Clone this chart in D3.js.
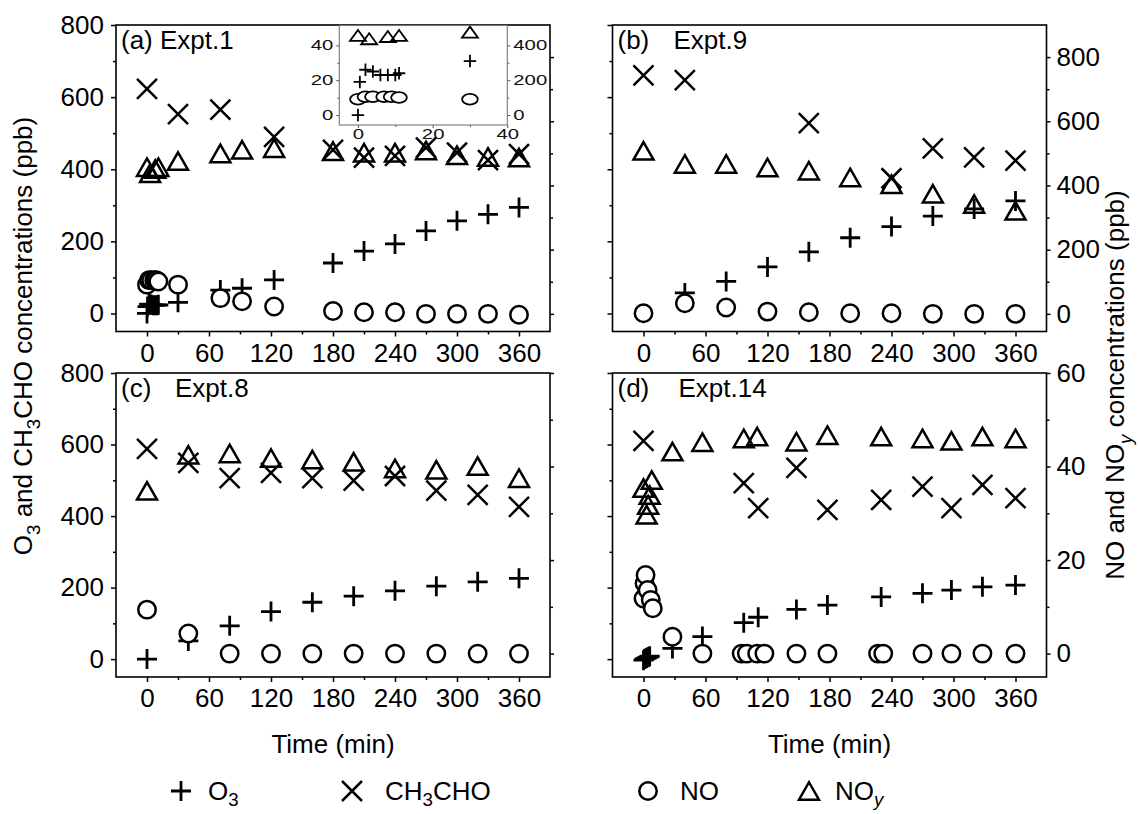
<!DOCTYPE html>
<html>
<head>
<meta charset="utf-8">
<script src="https://cdn.jsdelivr.net/npm/d3@7"></script>
<style>
body { margin: 0; background: #fff; }
svg { font-family: Arial, "Liberation Sans", Helvetica, sans-serif; }
</style>
</head>
<body>
<svg id="chart" width="1138" height="814"></svg>
<script>
// ---- data (time in min, O3 / CH3CHO on left axis, NO / NOy on right axis) ----
// (a) Expt.1
var aO3Time = [0, 0.5, 2, 4, 6, 8, 10, 11, 30, 71, 92, 123, 180, 210, 240, 270, 300, 330, 360];
var aO3 = [0, 19, 26, 25, 23, 23, 23, 24, 31, 65, 70, 93, 140, 173, 193, 229, 257, 275, 294];
var aAldTime = [0, 30, 71, 123, 180, 210, 240, 270, 300, 330, 360];
var aAld = [623, 553, 565, 490, 454, 432, 437, 460, 446, 425, 442];
var aNOTime = [0, 2, 4, 7, 9, 11, 30, 71, 92, 123, 180, 210, 240, 270, 300, 330, 360];
var aNO = [91, 105, 105, 105, 105, 101, 91, 49, 39, 23, 9, 5, 5, 0, 0, 0, -3];
var aNOyTime = [0, 3, 8, 11, 30, 71, 92, 123, 180, 210, 240, 270, 300, 330, 360];
var aNOy = [457, 438, 451, 457, 476, 500, 511, 516, 507, 502, 502, 509, 494, 489, 487];

// (b) Expt.9
var bTime = [0, 40, 80, 120, 160, 200, 240, 280, 320, 360];
var bO3Time = [40, 80, 120, 160, 200, 240, 280, 320, 360];
var bO3 = [57, 89, 129, 171, 210, 241, 270, 290, 312];
var bAldTime = [0, 40, 160, 240, 280, 320, 360];
var bAld = [660, 647, 528, 375, 458, 433, 424];
var bNO = [2, 33, 20, 7, 5, 2, 2, 0, 0, 0];
var bNOy = [508, 467, 467, 456, 446, 425, 404, 374, 342, 321];

// (c) Expt.8
var cTime = [0, 40, 80, 120, 160, 200, 240, 280, 320, 360];
var cO3 = [0, 51, 93, 133, 159, 176, 191, 204, 216, 226];
var cAld = [588, 549, 506, 521, 506, 499, 512, 471, 459, 426];
var cNO = [9.4, 4.3, 0, 0, 0, 0, 0, 0, 0, 0];
var cNOy = [34.8, 42.5, 42.8, 41.8, 41.5, 41.0, 39.6, 39.3, 40.1, 37.5];

// (d) Expt.14
var dO3Time = [0, 1, 2, 3, 4, 5, 6, 28, 57, 97, 111, 148, 178, 230, 270, 298, 328, 360];
var dO3 = [-3, 0, 2, 3, 5, 6, 8, 30, 63, 102, 117, 139, 151, 174, 184, 193, 202, 207];
var dAldTime = [0, 97, 111, 148, 178, 230, 270, 298, 328, 360];
var dAld = [610, 492, 422, 535, 417, 445, 482, 422, 487, 450];
var dNOTime = [0, 1, 2, 4, 7, 9, 28, 57, 95, 100, 110, 117, 148, 178, 227, 232, 270, 298, 328, 360];
var dNO = [11.8, 15, 16.8, 13.6, 11.5, 9.7, 3.6, 0, 0, 0, 0, 0, 0, 0, 0, 0, 0, 0, 0, 0];
var dNOyTime = [0, 3, 4.5, 6, 8, 28, 57, 97, 110, 148, 178, 230, 270, 298, 328, 360];
var dNOy = [35.4, 29.7, 31.8, 33.9, 37.1, 43.2, 45.2, 46.0, 46.4, 45.3, 46.7, 46.4, 46.0, 45.5, 46.4, 46.0];

// axis ticks
var xMajor = [0, 60, 120, 180, 240, 300, 360];
var xMinor = [30, 90, 150, 210, 270, 330];
var leftMajor = [0, 200, 400, 600, 800];
var leftMinor = [100, 300, 500, 700];
var rightTopMajor = [0, 200, 400, 600, 800];
var rightTopMinor = [100, 300, 500, 700];
var rightBotMajor = [0, 20, 40, 60];
var rightBotMinor = [10, 30, 50];

function zip(t, v) {
    return t.map(function (d, i) { return { t: d, v: v[i] }; });
}

var panels = [
    { col: 0, row: 0, label: '(a)', name: 'Expt.1', nameX: 0,
      o3: zip(aO3Time, aO3), ald: zip(aAldTime, aAld), no: zip(aNOTime, aNO), noy: zip(aNOyTime, aNOy) },
    { col: 1, row: 0, label: '(b)', name: 'Expt.9', nameX: 56,
      o3: zip(bO3Time, bO3), ald: zip(bAldTime, bAld), no: zip(bTime, bNO), noy: zip(bTime, bNOy) },
    { col: 0, row: 1, label: '(c)', name: 'Expt.8', nameX: 54,
      o3: zip(cTime, cO3), ald: zip(cTime, cAld), no: zip(cTime, cNO), noy: zip(cTime, cNOy) },
    { col: 1, row: 1, label: '(d)', name: 'Expt.14', nameX: 61,
      o3: zip(dO3Time, dO3), ald: zip(dAldTime, dAld), no: zip(dNOTime, dNO), noy: zip(dNOyTime, dNOy) }
];

var colX = [116, 612.5];
var panelW = 434;
var rowY = [25, 373];
var panelH = [306.5, 304];
var rightDomains = [[-55, 900], [-5, 60]];

var svg = d3.select('#chart');
var FS = 26;

// marker paths
function plusPath(s) { return 'M' + (-s) + ',0H' + s + 'M0,' + (-s) + 'V' + s; }
function crossPath(s) { return 'M' + (-s) + ',' + (-s) + 'L' + s + ',' + s + 'M' + (-s) + ',' + s + 'L' + s + ',' + (-s); }
function triPath(w, h) { return 'M0,' + (-h / 2) + 'L' + (w / 2) + ',' + (h / 2) + 'L' + (-w / 2) + ',' + (h / 2) + 'Z'; }

function richText(sel, parts, size, shift) {
    shift = shift || 0.3;
    var shifted = 0;
    parts.forEach(function (p) {
        var ts = sel.append('tspan').text(p.t);
        if (p.sub) {
            ts.attr('font-size', size * 0.72).attr('dy', size * shift - shifted);
            shifted = size * shift;
        } else {
            ts.attr('dy', -shifted);
            shifted = 0;
        }
        if (p.it) ts.attr('font-style', 'italic');
    });
}

function styleAxis(g, size) {
    g.select('.domain').remove();
    g.selectAll('.tick line').attr('stroke', '#000').attr('stroke-width', 1.5);
    g.selectAll('.tick text').attr('fill', '#000').attr('font-size', size)
        .attr('font-family', 'Arial, "Liberation Sans", sans-serif');
}

function drawMarkers(g, data, x, y, kind, sc) {
    sc = sc || 1;
    var sel = g.append('g').selectAll('path').data(data).enter();
    if (kind == 'circle') {
        sel.append('ellipse')
            .attr('cx', function (d) { return x(d.t); })
            .attr('cy', function (d) { return y(d.v); })
            .attr('rx', 8.7 * sc * (sc < 1 ? 1.45 : 1))
            .attr('ry', 8.7 * sc)
            .attr('fill', '#fff').attr('stroke', '#000').attr('stroke-width', sc < 1 ? 1.8 : 2.5);
        return;
    }
    sel.append('path')
        .attr('transform', function (d) { return 'translate(' + x(d.t) + ',' + y(d.v) + ')'; })
        .attr('d', function () {
            if (kind == 'plus') return plusPath(10 * sc);
            if (kind == 'cross') return crossPath(10 * sc);
            return sc < 1 ? triPath(16, 11) : triPath(20, 17.5);
        })
        .attr('fill', 'none')
        .attr('stroke', '#000')
        .attr('stroke-width', sc < 1 ? 1.8 : (kind == 'plus' ? 2.8 : 2.5))
        .attr('stroke-linejoin', 'miter');
}

panels.forEach(function (p) {
    var x0 = colX[p.col], y0 = rowY[p.row], h = panelH[p.row];
    var x = d3.scaleLinear().domain([-30, 390]).range([x0, x0 + panelW]);
    var yL = d3.scaleLinear().domain([-50, 800]).range([y0 + h, y0]);
    var yR = d3.scaleLinear().domain(rightDomains[p.row]).range([y0 + h, y0]);
    var g = svg.append('g');

    // bottom axis
    var gx = g.append('g').attr('transform', 'translate(0,' + (y0 + h) + ')')
        .call(d3.axisBottom(x).tickValues(xMajor).tickSize(5).tickPadding(7).tickSizeOuter(0));
    styleAxis(gx, FS);
    var gxm = g.append('g').attr('transform', 'translate(0,' + (y0 + h) + ')')
        .call(d3.axisBottom(x).tickValues(xMinor).tickSize(3).tickFormat('').tickSizeOuter(0));
    styleAxis(gxm, FS);

    // left axis (labels only in left column)
    var la = d3.axisLeft(yL).tickValues(leftMajor).tickSize(5).tickPadding(7).tickSizeOuter(0);
    if (p.col == 1) la.tickFormat('');
    var gl = g.append('g').attr('transform', 'translate(' + x0 + ',0)').call(la);
    styleAxis(gl, FS);
    styleAxis(g.append('g').attr('transform', 'translate(' + x0 + ',0)')
        .call(d3.axisLeft(yL).tickValues(leftMinor).tickSize(3).tickFormat('').tickSizeOuter(0)), FS);

    // right axis (labels only in right column)
    var rMaj = p.row == 0 ? rightTopMajor : rightBotMajor;
    var rMin = p.row == 0 ? rightTopMinor : rightBotMinor;
    var ra = d3.axisRight(yR).tickValues(rMaj).tickSize(4).tickPadding(6).tickSizeOuter(0);
    if (p.col == 0) ra.tickFormat('');
    styleAxis(g.append('g').attr('transform', 'translate(' + (x0 + panelW) + ',0)').call(ra), FS);
    styleAxis(g.append('g').attr('transform', 'translate(' + (x0 + panelW) + ',0)')
        .call(d3.axisRight(yR).tickValues(rMin).tickSize(3).tickFormat('').tickSizeOuter(0)), FS);

    // frame
    g.append('rect').attr('x', x0).attr('y', y0).attr('width', panelW).attr('height', h)
        .attr('fill', 'none').attr('stroke', '#000').attr('stroke-width', 1.6);

    // markers
    drawMarkers(g, p.o3, x, yL, 'plus');
    drawMarkers(g, p.ald, x, yL, 'cross');
    drawMarkers(g, p.noy, x, yR, 'tri');
    drawMarkers(g, p.no, x, yR, 'circle');

    // panel label
    if (p.nameX) {
        g.append('text').attr('x', x0 + 5).attr('y', y0 + 24).attr('font-size', FS).text(p.label);
        g.append('text').attr('x', x0 + 5 + p.nameX).attr('y', y0 + 24).attr('font-size', FS).text(p.name);
    } else {
        g.append('text').attr('x', x0 + 5).attr('y', y0 + 24).attr('font-size', FS)
            .text(p.label + ' ' + p.name);
    }

    if (p.label == '(a)') drawInset(p);
});

// inset in panel (a): first 40 min of Expt.1
function drawInset(p) {
    var ix0 = 339.3, ix1 = 507.3, iy0 = 25.5, iy1 = 125;
    var x = d3.scaleLinear().domain([-5, 40]).range([ix0, ix1]);
    var yL = d3.scaleLinear().domain([-5.7, 51.4]).range([iy1, iy0]);
    var yR = d3.scaleLinear().domain([-57, 514]).range([iy1, iy0]);
    var g = svg.append('g');
    g.append('rect').attr('x', ix0).attr('y', iy0).attr('width', ix1 - ix0).attr('height', iy1 - iy0)
        .attr('fill', '#fff');
    svg.append('clipPath').attr('id', 'insetClip').append('rect')
        .attr('x', ix0).attr('y', iy0).attr('width', ix1 - ix0).attr('height', iy1 - iy0);

    function insetAxis(axis, tx, ty) {
        var a = g.append('g').attr('transform', 'translate(' + tx + ',' + ty + ')').call(axis);
        a.select('.domain').remove();
        a.selectAll('.tick line').attr('stroke', '#555').attr('stroke-width', 1);
        a.selectAll('.tick text').attr('fill', '#111').attr('font-size', 14)
            .attr('lengthAdjust', 'spacingAndGlyphs')
            .attr('textLength', function () { return this.textContent.length * 11.3; });
        return a;
    }
    insetAxis(d3.axisBottom(x).tickValues([0, 20, 40]).tickSize(3).tickPadding(1).tickSizeOuter(0), 0, iy1);
    insetAxis(d3.axisBottom(x).tickValues([10, 30]).tickSize(2).tickFormat('').tickSizeOuter(0), 0, iy1);
    insetAxis(d3.axisLeft(yL).tickValues([0, 20, 40]).tickSize(3).tickPadding(3).tickSizeOuter(0), ix0, 0);
    insetAxis(d3.axisLeft(yL).tickValues([10, 30]).tickSize(2).tickFormat('').tickSizeOuter(0), ix0, 0);
    insetAxis(d3.axisRight(yR).tickValues([0, 200, 400]).tickSize(3).tickPadding(3).tickSizeOuter(0), ix1, 0);
    insetAxis(d3.axisRight(yR).tickValues([100, 300]).tickSize(2).tickFormat('').tickSizeOuter(0), ix1, 0);

    g.append('rect').attr('x', ix0).attr('y', iy0).attr('width', ix1 - ix0).attr('height', iy1 - iy0)
        .attr('fill', 'none').attr('stroke', '#777').attr('stroke-width', 1.1);

    var m = g.append('g').attr('clip-path', 'url(#insetClip)');
    var sc = 0.62;
    drawMarkers(m, p.o3, x, yL, 'plus', sc);
    drawMarkers(m, p.ald, x, yL, 'cross', sc);
    drawMarkers(m, p.noy, x, yR, 'tri', sc);
    drawMarkers(m, p.no, x, yR, 'circle', sc);
}

// axis titles
var yTitle = svg.append('text').attr('transform', 'translate(32,336) rotate(-90)')
    .attr('text-anchor', 'middle').attr('font-size', 26);
richText(yTitle, [{ t: 'O' }, { t: '3', sub: true }, { t: ' and CH' }, { t: '3', sub: true },
    { t: 'CHO concentrations (ppb)' }], 26);

var y2Title = svg.append('text').attr('transform', 'translate(1124,385) rotate(-90)')
    .attr('text-anchor', 'middle').attr('font-size', 26);
richText(y2Title, [{ t: 'NO and NO' }, { t: 'y', sub: true, it: true }, { t: ' concentrations (ppb)' }], 26);

[0, 1].forEach(function (c) {
    svg.append('text').attr('x', colX[c] + panelW / 2).attr('y', 753)
        .attr('text-anchor', 'middle').attr('font-size', 26).text('Time (min)');
});

// legend
var legY = 791;
var leg = svg.append('g');
leg.append('path').attr('d', plusPath(10)).attr('transform', 'translate(181,' + legY + ')')
    .attr('stroke', '#000').attr('stroke-width', 2.8).attr('fill', 'none');
leg.append('path').attr('d', crossPath(10)).attr('transform', 'translate(352,' + legY + ')')
    .attr('stroke', '#000').attr('stroke-width', 2.5).attr('fill', 'none');
leg.append('circle').attr('cx', 648).attr('cy', legY).attr('r', 8.7)
    .attr('stroke', '#000').attr('stroke-width', 2.5).attr('fill', 'none');
leg.append('path').attr('d', triPath(20, 17.5)).attr('transform', 'translate(809,' + legY + ')')
    .attr('stroke', '#000').attr('stroke-width', 2.5).attr('fill', 'none');

var legText = [
    { x: 208, parts: [{ t: 'O' }, { t: '3', sub: true }] },
    { x: 385, parts: [{ t: 'CH' }, { t: '3', sub: true }, { t: 'CHO' }] },
    { x: 680, parts: [{ t: 'NO' }] },
    { x: 835, parts: [{ t: 'NO' }, { t: 'y', sub: true, it: true }] }
];
legText.forEach(function (l) {
    var t = leg.append('text').attr('x', l.x).attr('y', legY + 9).attr('font-size', FS);
    richText(t, l.parts, FS, 0.22);
});
</script>
</body>
</html>
